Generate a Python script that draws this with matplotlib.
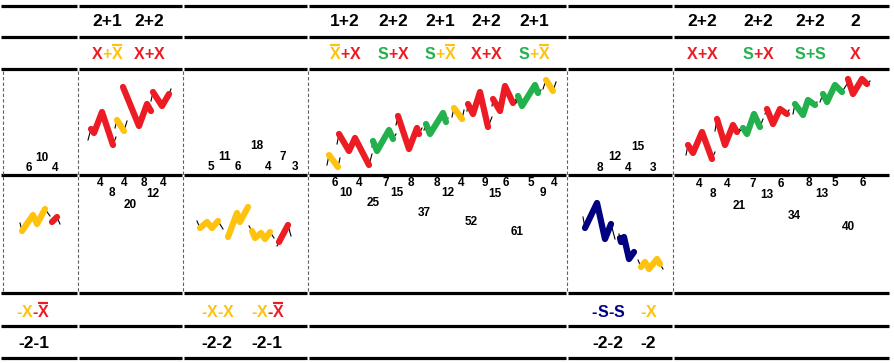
import matplotlib.pyplot as plt
from matplotlib.font_manager import FontProperties

# colours
RED = "#ED1C24"
YEL = "#FFC20E"
GRN = "#22B14C"
NAVY = "#000080"
up_colors = {"X": RED, "Xb": YEL, "S": GRN}
dn_colors = {"X": YEL, "Xb": RED, "S": NAVY}

# table layout
col_edges = [0, 78, 183, 308, 567, 673, 890]
rule_y = [6, 37, 69, 175, 293, 326, 358]
grid_x = [3, 78, 183, 308, 567, 673]

# header rows
top_counts = [(107, "2+1"), (149, "2+2"),
              (345, "1+2"), (393, "2+2"), (440, "2+1"), (486, "2+2"), (534, "2+1"),
              (702, "2+2"), (758, "2+2"), (810, "2+2"), (855, "2")]
top_terms = [(107, ["X", "+Xb"]), (149, ["X", "+X"]),
             (345, ["Xb", "+X"]), (393, ["S", "+X"]), (440, ["S", "+Xb"]),
             (486, ["X", "+X"]), (534, ["S", "+Xb"]),
             (702, ["X", "+X"]), (758, ["S", "+X"]), (810, ["S", "+S"]), (855, ["X"])]

# footer rows
bot_terms = [(32, ["-X", "-Xb"]), (217, ["-X", "-X"]), (267, ["-X", "-Xb"]),
             (608, ["-S", "-S"]), (648, ["-X"])]
bot_counts = [(34, "-2-1"), (217, "-2-2"), (267, "-2-1"), (608, "-2-2"), (648, "-2")]

# small count labels
up_nums = [(29, 168, "6"), (42, 158, "10"), (55, 168, "4"),
           (211, 167, "5"), (225, 157, "11"), (238, 167, "6"), (257, 146, "18"),
           (268, 167, "4"), (283, 157, "7"), (295, 167, "3"),
           (600, 168, "8"), (615, 157, "12"), (628, 168, "4"), (638, 147, "15"), (653, 168, "3")]
dn_nums = [(100, 183, "4"), (112, 193, "8"), (124, 183, "4"), (130, 205, "20"),
           (144, 183, "8"), (153, 194, "12"), (163, 183, "4"),
           (335, 183, "6"), (346, 193, "10"), (359, 183, "4"), (373, 203, "25"),
           (386, 183, "7"), (397, 193, "15"), (411, 183, "8"), (424, 213, "37"),
           (437, 183, "8"), (448, 193, "12"), (461, 183, "4"), (471, 222, "52"),
           (485, 183, "9"), (495, 194, "15"), (506, 183, "6"), (517, 232, "61"),
           (531, 183, "5"), (543, 193, "9"), (554, 183, "4"),
           (699, 184, "4"), (713, 194, "8"), (727, 184, "4"), (739, 206, "21"),
           (753, 184, "7"), (767, 195, "13"), (781, 184, "6"), (794, 216, "34"),
           (809, 183, "8"), (822, 194, "13"), (835, 183, "5"), (848, 227, "40"),
           (863, 183, "6")]

# zigzag waves: (type, xs, ys) - first and last point are the thin black ticks
up_waves = [
    ("X", [88, 91, 94, 102, 113, 116], [140, 129, 133, 112, 145, 137]),
    ("Xb", [115, 117, 124, 127], [128, 120, 131, 121]),
    ("X", [123, 123, 139, 147, 151, 151], [87, 87, 126, 104, 111, 111]),
    ("X", [151, 153, 162, 169, 171], [101, 92, 106, 94, 89]),
    ("Xb", [327, 329, 338, 340], [165, 155, 167, 158]),
    ("X", [337, 339, 349, 355, 369, 372], [144, 134, 151, 138, 165, 154]),
    ("S", [372, 373, 377, 389, 393, 396], [147, 141, 151, 130, 139, 134]),
    ("X", [396, 398, 409, 417, 419, 422], [125, 116, 149, 128, 134, 128]),
    ("S", [424, 426, 430, 443, 446, 448], [130, 124, 134, 113, 122, 118]),
    ("Xb", [452, 454, 462, 464], [117, 108, 119, 110]),
    ("X", [467, 468, 473, 480, 488, 492], [111, 104, 114, 92, 127, 117]),
    ("X", [492, 493, 500, 505, 513, 517], [106, 99, 111, 86, 103, 98]),
    ("S", [516, 518, 522, 535, 538, 541], [103, 96, 106, 85, 93, 90]),
    ("Xb", [543, 546, 553, 556], [89, 80, 91, 82]),
    ("X", [686, 688, 693, 702, 712, 715], [155, 145, 153, 132, 159, 152]),
    ("X", [715, 717, 725, 733, 737, 740], [131, 119, 145, 125, 132, 129]),
    ("S", [740, 743, 747, 754, 760, 763], [131, 128, 134, 114, 127, 119]),
    ("X", [765, 767, 773, 780, 787, 789], [114, 109, 124, 109, 114, 110]),
    ("S", [793, 795, 803, 808, 815, 817], [114, 104, 115, 100, 105, 102]),
    ("S", [820, 823, 827, 835, 842, 847], [102, 94, 102, 85, 92, 84]),
    ("X", [848, 848, 853, 862, 867, 870], [79, 79, 94, 79, 84, 81]),
]
dn_waves = [
    ("X", [20, 22, 33, 37, 45, 50], [223, 231, 215, 224, 209, 216]),
    ("Xb", [51, 52, 57, 60], [220, 222, 217, 224]),
    ("X", [197, 200, 207, 212, 218, 223], [221, 228, 222, 228, 221, 229]),
    ("X", [228, 228, 237, 240, 248, 248], [237, 237, 213, 222, 207, 207]),
    ("X", [249, 252, 255, 261, 265, 270, 274], [226, 231, 238, 233, 239, 232, 238]),
    ("Xb", [277, 279, 288, 291], [246, 242, 225, 236]),
    ("S", [583, 585, 597, 605, 611, 615], [217, 228, 203, 239, 224, 239]),
    ("S", [619, 620, 621, 624, 629, 634, 634], [234, 238, 242, 237, 259, 252, 252]),
    ("X", [638, 641, 645, 649, 657, 660, 663], [260, 267, 262, 269, 259, 264, 269]),
]

fig = plt.figure(figsize=(8.94, 3.63), dpi=100)
ax = fig.add_axes([0, 0, 1, 1])
ax.set_xlim(0, 894)
ax.set_ylim(363, 0)
ax.axis("off")
renderer = fig.canvas.get_renderer()

FAM = "Liberation Sans"

# thick rules with small gaps at the column boundaries
for y in rule_y:
    for e0, e1 in zip(col_edges[:-1], col_edges[1:]):
        ax.plot([e0 + 1, e1 - 1], [y, y], color="black", lw=2.3, solid_capstyle="butt")

ax.vlines(grid_x, 71, 291, colors="#606060", linestyles=(0, (3, 2)), lw=0.8)


def put_terms(x, y, terms, cmap, size):
    prop = FontProperties(family=FAM, weight="bold", size=size)
    pieces = []
    for t in terms:
        sign = t[0] if t[0] in "+-" else ""
        key = t.lstrip("+-")
        c = cmap[key]
        if sign:
            pieces.append((sign, c, False))
        pieces.append((key[0], c, key.endswith("b")))
    widths = [renderer.get_text_width_height_descent(s, prop, ismath=False)[0] for s, _, _ in pieces]
    cur = x - sum(widths) / 2
    for (s, c, bar), w in zip(pieces, widths):
        ax.text(cur, y, s, color=c, fontproperties=prop, ha="left", va="baseline")
        if bar:
            ax.plot([cur + 0.5, cur + w - 0.5], [y - 14, y - 14], color=c, lw=1.6,
                    solid_capstyle="butt")
        cur += w


for x, s in top_counts:
    ax.text(x, 22, s, fontsize=12.5, fontweight="bold", family=FAM, ha="center", va="center")
for x, terms in top_terms:
    put_terms(x, 59, terms, up_colors, 11.5)
for x, terms in bot_terms:
    put_terms(x, 317, terms, dn_colors, 11.5)
for x, s in bot_counts:
    ax.text(x, 343, s, fontsize=12.5, fontweight="bold", family=FAM, ha="center", va="center")

for x, y, s in up_nums + dn_nums:
    ax.text(x, y, s, fontsize=8.5, fontweight="bold", family=FAM, ha="center", va="center")

for waves, cmap in [(up_waves, up_colors), (dn_waves, dn_colors)]:
    for kind, xs, ys in waves:
        ax.plot(xs, ys, color="black", lw=0.8)
        ax.plot(xs[1:-1], ys[1:-1], color=cmap[kind], lw=4.5, solid_capstyle="round",
                solid_joinstyle="round")

fig.savefig("out.png", dpi=100)
